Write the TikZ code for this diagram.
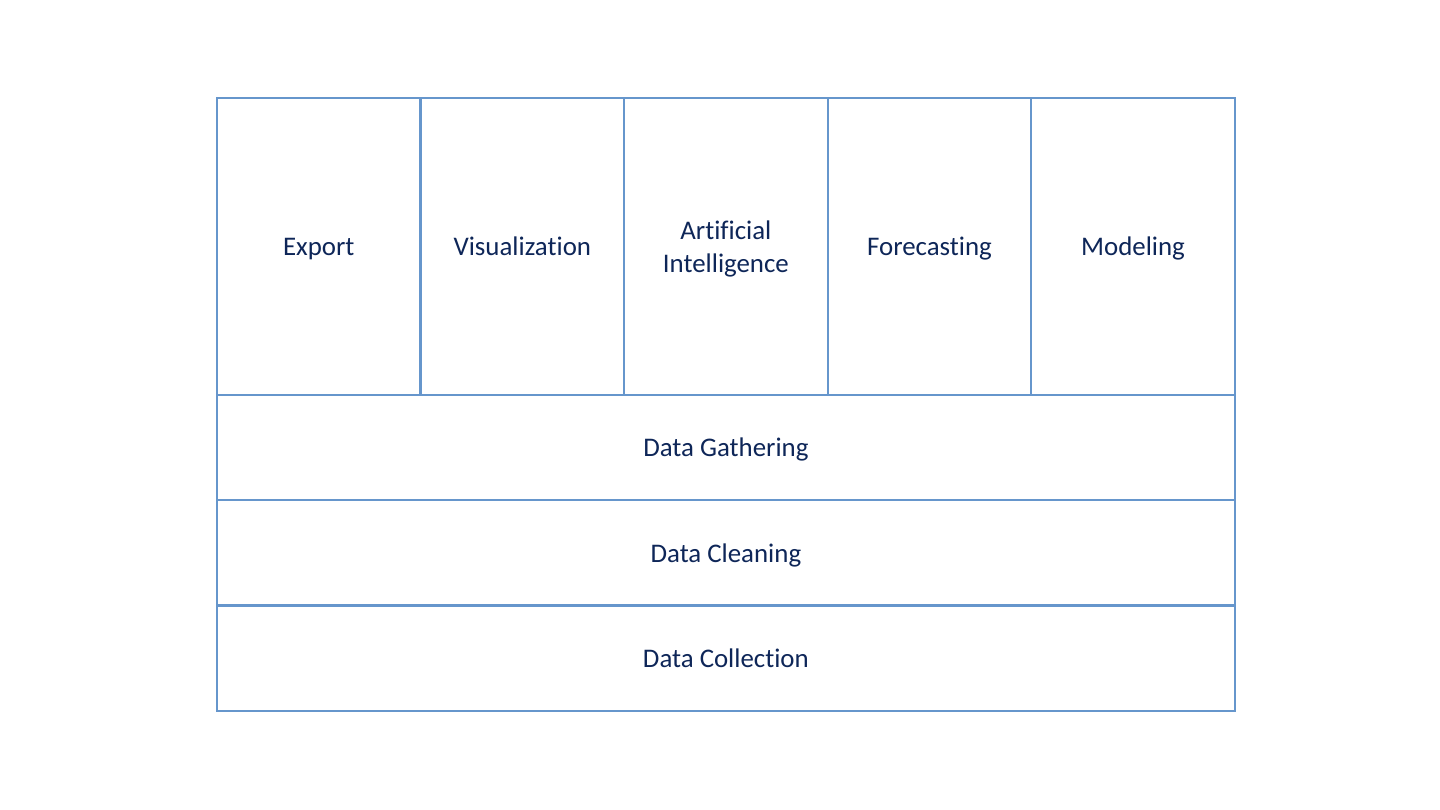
\documentclass[tikz,border=0pt]{standalone}
\usepackage{fontspec}
\setmainfont[Ligatures=NoCommon]{Carlito}
\usetikzlibrary{positioning}
\definecolor{boxblue}{RGB}{102,150,204}
\definecolor{textnavy}{RGB}{14,38,88}

\begin{document}
\begin{tikzpicture}[
    x=0.02cm, y=-0.02cm,
    node distance=0cm,
    colnode/.style={draw=boxblue,line width=1.3pt,rectangle,outer sep=0pt,
        minimum width=4.072cm,minimum height=5.94cm,text depth=0pt,
        text=textnavy,font=\fontsize{15.3}{18.7}\selectfont,align=center},
    layernode/.style={draw=boxblue,line width=1.3pt,rectangle,outer sep=0pt,
        minimum width=20.36cm,minimum height=2.106cm,text depth=0pt,
        text=textnavy,font=\fontsize{15.3}{18.7}\selectfont}
]
\useasboundingbox (0,0) rectangle (1440,810);

% top row of columns
\node[colnode,anchor=north west] (export) at (217,98) {Export};
\node[colnode,right=of export] (visual) {Visualization};
\node[colnode,right=of visual] (ai) {Artificial\\Intelligence};
\node[colnode,right=of ai] (forecast) {Forecasting};
\node[colnode,right=of forecast] (model) {Modeling};

% data layers
\node[layernode,anchor=north west] (gather) at (export.south west) {Data Gathering};
\node[layernode,below=of gather] (clean) {Data Cleaning};
\node[layernode,below=of clean] (collect) {Data Collection};
\end{tikzpicture}
\end{document}
